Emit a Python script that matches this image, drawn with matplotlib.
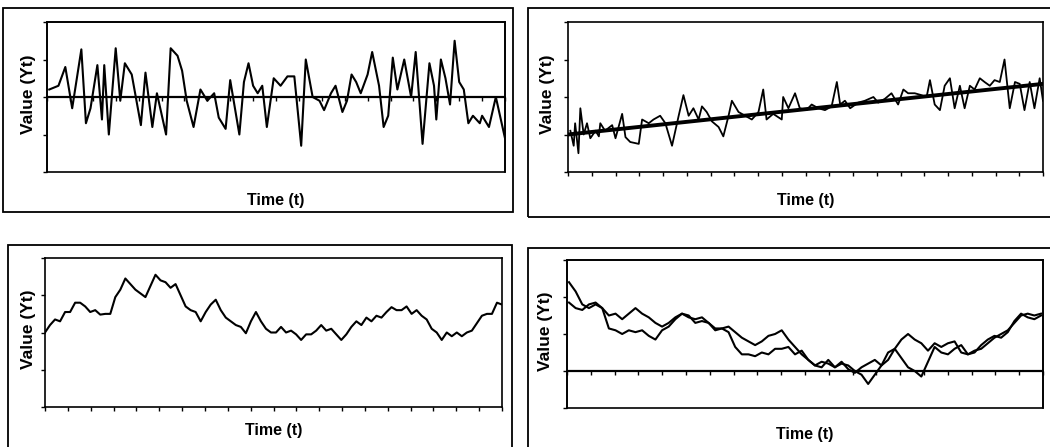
import numpy as np
import matplotlib
matplotlib.use("Agg")
import matplotlib.pyplot as plt
from matplotlib.patches import Rectangle

plt.rcParams['font.family'] = ['Liberation Sans', 'DejaVu Sans']

# ---------------- data ----------------
# Panel 1: stationary noise around zero
p1_t = [0.5, 2.5, 4, 5.5, 7.5, 8.5, 9.5, 11, 12, 12.5, 13.5, 15, 16, 17, 18.5, 20.5, 21.5, 23, 24, 26,
        27, 28.5, 29.5, 30.5, 32, 33.5, 35, 36.5, 37.5, 39, 40, 42, 43, 44, 45, 46, 47, 48, 49.5, 51,
        52.5, 54, 55.5, 56.5, 58, 59.5, 60.5, 62, 63, 64.5, 65.5, 66.5, 67.5, 68.5, 70, 71, 72.5, 73.5,
        74.5, 75.5, 76.5, 78, 79.5, 80.5, 82, 83.5, 84.5, 85, 86, 87, 88, 89, 90, 91, 92, 93, 94.5, 95,
        96.5, 98, 100]
p1_y = [0.2, 0.3, 0.8, -0.3, 1.27, -0.7, -0.3, 0.85, -0.6, 0.85, -1.0, 1.3, -0.1, 0.9, 0.6, -0.75,
        0.65, -0.8, 0.1, -1.0, 1.3, 1.1, 0.7, -0.1, -0.8, 0.2, -0.1, 0.1, -0.55, -0.85, 0.45, -1.0,
        0.4, 0.9, 0.3, 0.1, 0.3, -0.8, 0.5, 0.3, 0.55, 0.55, -1.3, 1.0, 0.0, -0.1, -0.35, 0.1, 0.3,
        -0.4, -0.1, 0.6, 0.4, 0.1, 0.6, 1.2, 0.3, -0.8, -0.5, 1.05, 0.2, 1.0, 0.0, 1.2, -1.25, 0.9,
        0.3, -0.6, 1.0, 0.5, -0.2, 1.5, 0.4, 0.2, -0.7, -0.5, -0.7, -0.5, -0.8, 0.0, -1.1]

# Panel 2: noise around a linear trend
p2_t = [0.5, 1.2, 1.5, 2.2, 2.6, 3.3, 4.0, 4.7, 5.8, 6.5, 6.8, 7.8, 9.3, 10.0, 11.4, 12.1, 13.1, 14.9,
        15.6, 17.0, 18.0, 19.4, 20.5, 21.9, 23.3, 24.3, 25.4, 26.4, 27.5, 28.2, 29.2, 30.3, 31.7, 32.7,
        33.8, 34.5, 35.9, 37.3, 38.7, 40.1, 41.1, 41.8, 43.2, 45.0, 45.3, 46.4, 47.8, 48.8, 50.2, 51.3,
        52.7, 54.1, 55.5, 56.6, 57.3, 58.3, 59.4, 61.1, 62.5, 64.3, 65.3, 66.7, 68.1, 69.5, 70.6, 71.6,
        73.0, 74.4, 75.5, 76.2, 77.2, 78.3, 79.3, 80.4, 81.4, 82.5, 83.5, 84.6, 85.6, 86.7, 87.7, 88.8,
        89.8, 90.9, 91.9, 93.0, 94.1, 95.1, 96.1, 97.2, 98.2, 99.3, 100]
p2_y = [1.1, 0.7, 1.3, 0.5, 1.7, 1.0, 1.3, 0.9, 1.1, 0.95, 1.3, 1.1, 1.25, 0.9, 1.55, 0.93, 0.8, 0.75,
        1.4, 1.3, 1.4, 1.5, 1.3, 0.7, 1.5, 2.05, 1.5, 1.7, 1.4, 1.75, 1.6, 1.35, 1.2, 0.95, 1.5, 1.9,
        1.6, 1.5, 1.4, 1.6, 2.2, 1.4, 1.55, 1.4, 2.0, 1.7, 2.1, 1.7, 1.65, 1.8, 1.7, 1.65, 1.75, 2.4,
        1.8, 1.9, 1.7, 1.85, 1.9, 2.0, 1.85, 1.95, 2.1, 1.8, 2.2, 2.1, 2.1, 2.05, 2.0, 2.45, 1.8, 1.65,
        2.3, 2.5, 1.7, 2.3, 1.7, 2.3, 2.2, 2.5, 2.4, 2.3, 2.45, 2.4, 3.0, 1.7, 2.4, 2.35, 1.65, 2.4,
        1.7, 2.5, 1.9]
trend_t = [0, 100]
trend_y = [1.0, 2.35]

# Panel 3: random walk
p3_y = [2.0, 2.2, 2.35, 2.3, 2.55, 2.55, 2.8, 2.8, 2.7, 2.55,
        2.6, 2.48, 2.5, 2.5, 2.95, 3.15, 3.45, 3.3, 3.15, 3.05,
        2.95, 3.25, 3.55, 3.4, 3.35, 3.2, 3.3, 3.0, 2.7, 2.6,
        2.55, 2.3, 2.55, 2.75, 2.88, 2.6, 2.4, 2.3, 2.2, 2.15,
        1.98, 2.3, 2.55, 2.3, 2.1, 2.0, 2.0, 2.15, 2.0, 2.05,
        1.95, 1.8, 1.95, 1.95, 2.05, 2.2, 2.05, 2.1, 1.95, 1.8,
        1.95, 2.15, 2.3, 2.2, 2.4, 2.3, 2.45, 2.4, 2.55, 2.68,
        2.6, 2.6, 2.7, 2.5, 2.6, 2.45, 2.35, 2.1, 2.0, 1.8,
        2.0, 1.9, 2.0, 1.9, 2.0, 2.05, 2.25, 2.45, 2.5, 2.5,
        2.8, 2.75]

# Panel 4: two random walks
p4_a = [2.4, 2.15, 1.8, 1.7, 1.8, 1.7, 1.5, 1.55, 1.4, 1.55,
        1.7, 1.55, 1.45, 1.3, 1.2, 1.3, 1.45, 1.55, 1.45, 1.4,
        1.45, 1.3, 1.15, 1.15, 1.2, 1.05, 0.9, 0.8, 0.7, 0.8,
        0.95, 1.0, 1.1, 0.85, 0.65, 0.45, 0.3, 0.15, 0.25, 0.2,
        0.1, 0.2, 0.15, 0.0, -0.1, -0.35, -0.1, 0.15, 0.3, 0.6,
        0.85, 1.0, 0.85, 0.75, 0.55, 0.75, 0.65, 0.75, 0.8, 0.5,
        0.45, 0.5, 0.7, 0.85, 0.95, 0.9, 1.05, 1.35, 1.55, 1.45,
        1.4, 1.5]
p4_b = [1.85, 1.7, 1.65, 1.8, 1.85, 1.7, 1.15, 1.1, 1.0, 1.1,
        1.05, 1.1, 0.95, 0.85, 1.1, 1.2, 1.4, 1.55, 1.5, 1.3,
        1.35, 1.3, 1.1, 1.15, 1.05, 0.65, 0.45, 0.45, 0.4, 0.5,
        0.45, 0.6, 0.6, 0.65, 0.45, 0.55, 0.3, 0.15, 0.1, 0.3,
        0.1, 0.25, 0.05, -0.05, 0.1, 0.2, 0.3, 0.15, 0.5, 0.6,
        0.35, 0.1, 0.0, -0.15, 0.25, 0.65, 0.5, 0.45, 0.6, 0.7,
        0.45, 0.55, 0.6, 0.75, 0.9, 1.0, 1.1, 1.3, 1.5, 1.55,
        1.5, 1.55]

ylabel_text = "Value (Yt)"
xlabel_text = "Time (t)"

# ---------------- figure ----------------
W, H = 1050, 447
fig = plt.figure(figsize=(W / 100, H / 100), dpi=100)
fig.patch.set_facecolor('white')


def frac_rect(l, t, r, b):
    return [l / W, 1 - b / H, (r - l) / W, (b - t) / H]


def frame(l, t, r, b):
    fig.add_artist(Rectangle((l / W, 1 - b / H), (r - l) / W, (b - t) / H,
                             transform=fig.transFigure, fill=False,
                             edgecolor='black', linewidth=1.3))


frame(3, 8, 513, 212)
frame(528, 8, 1060, 217)
frame(8, 245, 512, 460)
frame(528, 248, 1060, 460)


def setup(ax, ylim, xlim, zero_axis, ylab_x, xlab_y):
    ax.set_ylim(*ylim)
    ax.set_xlim(*xlim)
    ax.set_yticks(np.arange(ylim[0], ylim[1] + 0.5, 1))
    ax.set_xticks(np.linspace(xlim[0], xlim[1], 21))
    ax.set_yticklabels([])
    ax.set_xticklabels([])
    ax.tick_params(axis='both', direction='out', length=3, width=1, color='black')
    for s in ax.spines.values():
        s.set_linewidth(1.2)
        s.set_color('black')
    if zero_axis:
        ax.spines['bottom'].set_position(('data', 0))
        ax.add_patch(Rectangle((0, 0), 1, 1, transform=ax.transAxes, fill=False,
                               edgecolor='black', linewidth=1.2, clip_on=False, zorder=1))
    ax.text(ylab_x, 0.52, ylabel_text, transform=ax.transAxes, rotation=90,
            ha='center', va='center', fontsize=12.5, fontweight='bold')
    ax.text(0.5, xlab_y, xlabel_text, transform=ax.transAxes,
            ha='center', va='center', fontsize=11.5, fontweight='bold')


# Panel 1
ax1 = fig.add_axes(frac_rect(47, 22, 505, 172))
ax1.plot(p1_t, p1_y, color='black', lw=1.5)
setup(ax1, (-2, 2), (0, 100), True, -0.041, -0.187)
ax1.axhline(0, color='black', lw=1.6)

# Panel 2
ax2 = fig.add_axes(frac_rect(568, 22, 1043, 172))
ax2.plot(p2_t, p2_y, color='black', lw=1.3)
ax2.plot(trend_t, trend_y, color='black', lw=2.8)
setup(ax2, (0, 4), (0, 100), False, -0.044, -0.187)

# Panel 3
ax3 = fig.add_axes(frac_rect(45, 258, 502, 407))
t3 = np.arange(len(p3_y))
ax3.plot(t3, p3_y, color='black', lw=1.5)
setup(ax3, (0, 4), (0, len(p3_y) - 1), False, -0.037, -0.155)

# Panel 4
ax4 = fig.add_axes(frac_rect(567, 260, 1043, 408))
t4 = np.arange(len(p4_a))
ax4.plot(t4, p4_a, color='black', lw=1.5)
ax4.plot(t4, p4_b, color='black', lw=1.5)
setup(ax4, (-1, 3), (-0.3, len(p4_a) - 0.7), True, -0.046, -0.18)
ax4.axhline(0, color='black', lw=1.6)

fig.savefig("out.png", dpi=100)
